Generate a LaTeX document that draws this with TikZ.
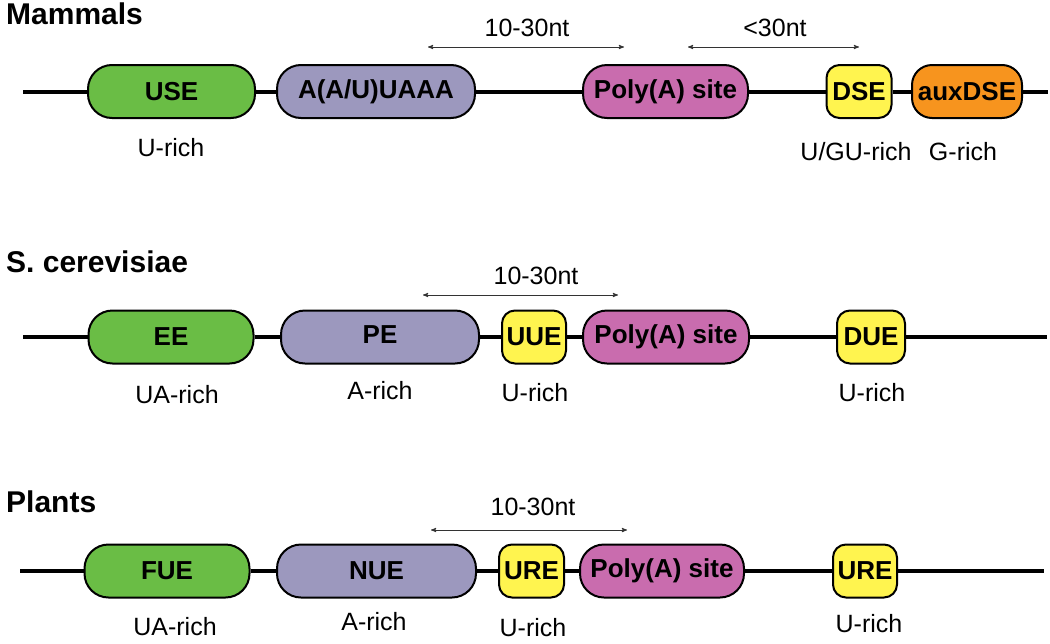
\documentclass[tikz,border=0pt]{standalone}
\usepackage{fontspec}
\setmainfont{Liberation Sans}
\usetikzlibrary{arrows}
\definecolor{elgreen}{HTML}{6ABD45}
\definecolor{elpurple}{HTML}{9C98BE}
\definecolor{elmagenta}{HTML}{C96CAE}
\definecolor{elyellow}{HTML}{FFF44F}
\definecolor{elorange}{HTML}{F7941E}
\begin{document}
\begin{tikzpicture}[x=1pt,y=-1pt,>=stealth',
    element/.style={draw,line width=2pt,rounded corners=24pt,minimum height=53pt,inner sep=0pt,font=\fontsize{26}{30}\selectfont\bfseries},
    small element/.style={element,rounded corners=13pt},
    backbone/.style={line width=4pt},
    span/.style={<->,line width=0.9pt,draw=black!80},
    caption/.style={inner sep=0pt,font=\fontsize{25}{30}\selectfont},
    title/.style={anchor=west,inner sep=0pt,font=\fontsize{30}{34}\selectfont\bfseries}]

  \useasboundingbox (0,0) rectangle (1050,643);

  \node[title] (mammals) at (6,14) {Mammals};
  \node[element,fill=elgreen,minimum width=167pt] (use) at (171.5,91.5) {USE};
  \node[element,fill=elpurple,minimum width=198pt] (aaa) at (376,91.5) {A(A/U)UAAA};
  \node[element,fill=elmagenta,minimum width=165pt] (polyA) at (665.5,91.5) {Poly(A) site};
  \node[small element,fill=elyellow,minimum width=65pt] (dse) at (859,91.5) {DSE};
  \node[element,rounded corners=20pt,fill=elorange,minimum width=110pt] (auxdse) at (967,91.5) {auxDSE};
  \coordinate (mStart) at (23,91.5);
  \coordinate (mEnd) at (1048,91.5);
  \draw[backbone] (mStart) -- (use) -- (aaa) -- (polyA) -- (dse) -- (auxdse) -- (mEnd);
  \coordinate (mA) at (428,47);
  \coordinate (mB) at (624,47);
  \coordinate (mC) at (688,47);
  \coordinate (mD) at (859,47);
  \draw[span] (mA) -- (mB);
  \draw[span] (mC) -- (mD);
  \node[caption] (mNt) at (527,28) {10-30nt};
  \node[caption] (mLt) at (775,28) {<30nt};
  \node[caption] (useRich) at (171,148) {U-rich};
  \node[caption] (dseRich) at (856,152) {U/GU-rich};
  \node[caption] (auxRich) at (963,152) {G-rich};

  \node[title] (cerevisiae) at (6,262) {S. cerevisiae};
  \node[element,fill=elgreen,minimum width=165pt] (ee) at (171,337) {EE};
  \node[element,fill=elpurple,minimum width=198pt] (pe) at (380,337) {\raisebox{5pt}{PE}};
  \node[small element,fill=elyellow,minimum width=64pt] (uue) at (534,337) {UUE};
  \node[element,fill=elmagenta,minimum width=166pt] (polyB) at (666,337) {Poly(A) site};
  \node[small element,fill=elyellow,minimum width=68pt] (due) at (871,337) {DUE};
  \coordinate (cStart) at (23,337);
  \coordinate (cEnd) at (1047,337);
  \draw[backbone] (cStart) -- (ee) -- (pe) -- (uue) -- (polyB) -- (due) -- (cEnd);
  \coordinate (cA) at (423,295);
  \coordinate (cB) at (618,295);
  \draw[span] (cA) -- (cB);
  \node[caption] (cNt) at (536,276) {10-30nt};
  \node[caption] (eeRich) at (177,395) {UA-rich};
  \node[caption] (peRich) at (380,391) {A-rich};
  \node[caption] (uueRich) at (535,393) {U-rich};
  \node[caption] (dueRich) at (872,393) {U-rich};

  \node[title] (plants) at (6,502) {Plants};
  \node[element,fill=elgreen,minimum width=165pt] (fue) at (167,571) {FUE};
  \node[element,fill=elpurple,minimum width=199pt] (nue) at (376.5,571) {NUE};
  \node[small element,fill=elyellow,minimum width=65pt] (ureA) at (531.5,571) {URE};
  \node[element,fill=elmagenta,minimum width=164pt] (polyC) at (662,571) {Poly(A) site};
  \node[small element,fill=elyellow,minimum width=64pt] (ureB) at (865,571) {URE};
  \coordinate (pStart) at (20,571);
  \coordinate (pEnd) at (1044,571);
  \draw[backbone] (pStart) -- (fue) -- (nue) -- (ureA) -- (polyC) -- (ureB) -- (pEnd);
  \coordinate (pA) at (431,530);
  \coordinate (pB) at (627,530);
  \draw[span] (pA) -- (pB);
  \node[caption] (pNt) at (533,507) {10-30nt};
  \node[caption] (fueRich) at (175,627) {UA-rich};
  \node[caption] (nueRich) at (374,622) {A-rich};
  \node[caption] (ureARich) at (533,628) {U-rich};
  \node[caption] (ureBRich) at (869,624) {U-rich};
\end{tikzpicture}
\end{document}
